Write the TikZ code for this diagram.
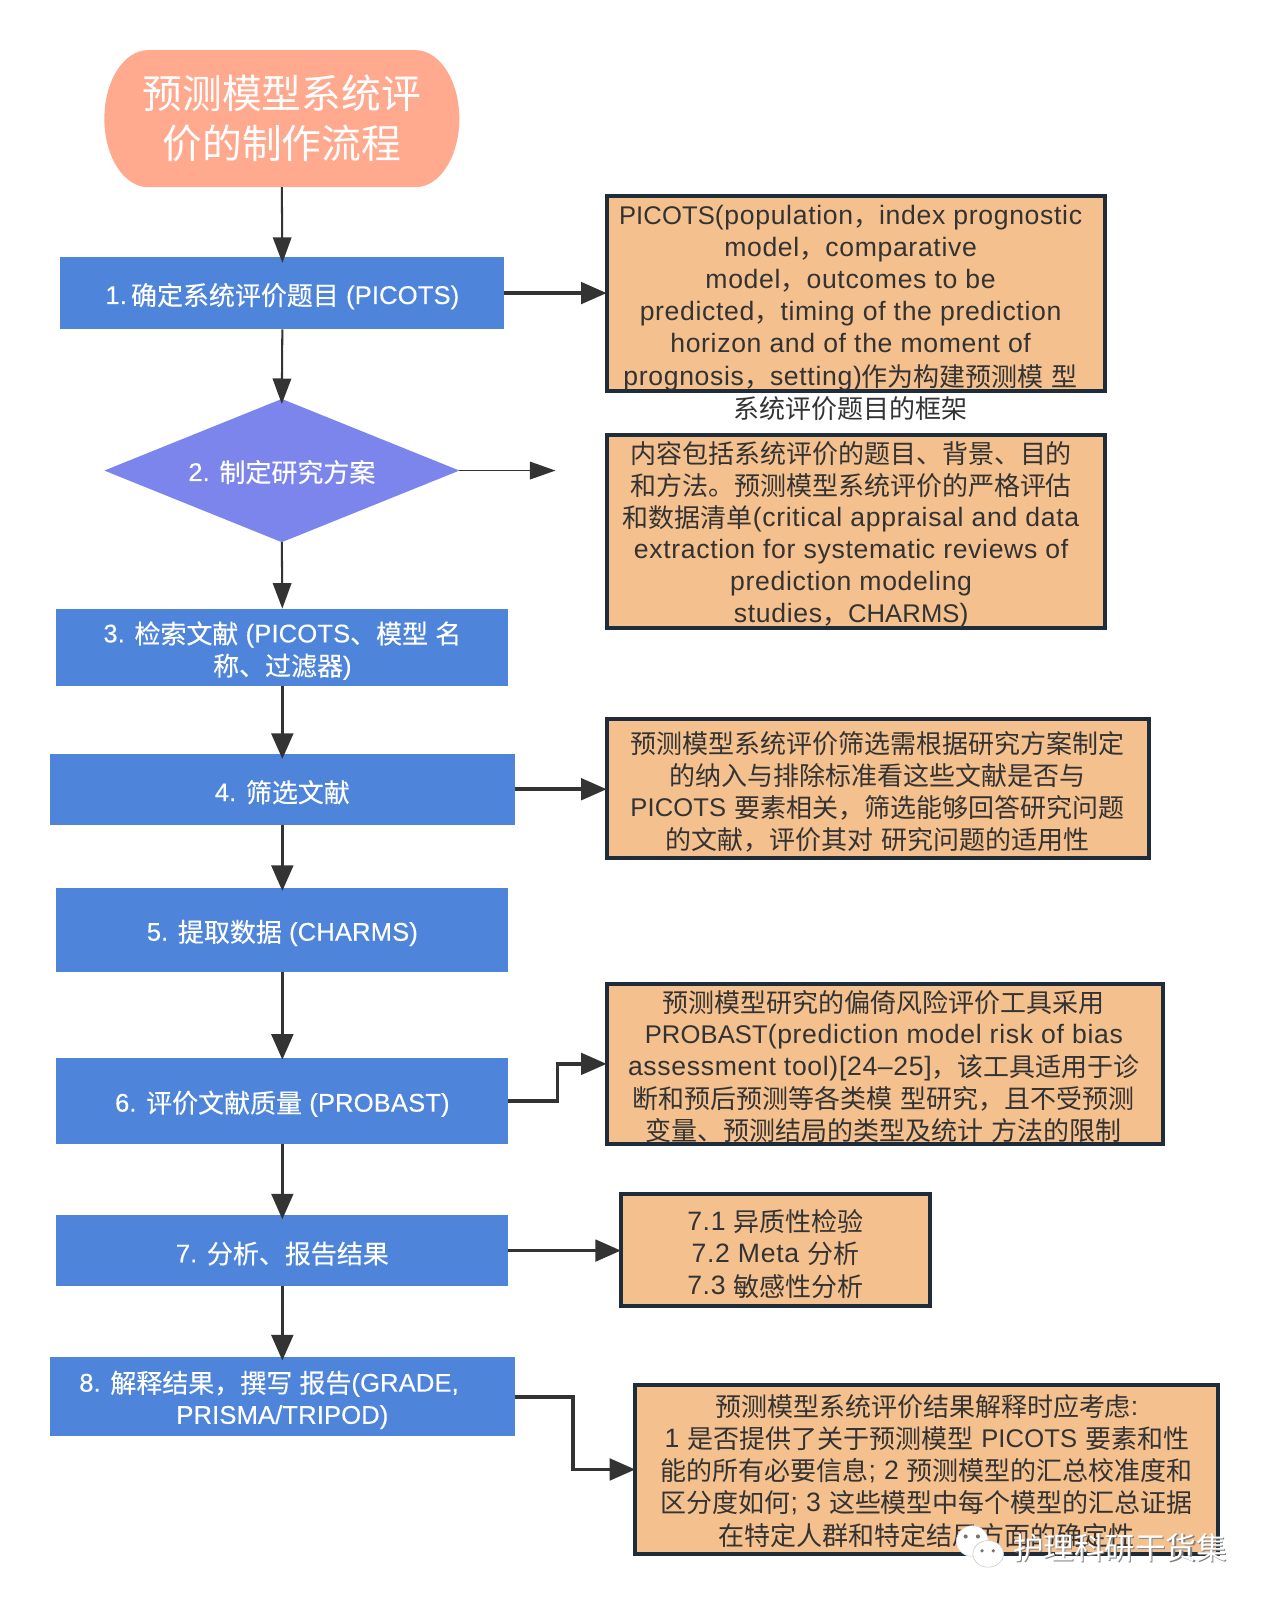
\documentclass[tikz,border=0pt]{standalone}
\usepackage{fontspec}
\setmainfont[Scale=1.04,LetterSpace=2.5]{Liberation Sans}
\newfontfamily\cjk[Scale=1.016]{Noto Sans CJK SC}
\newfontfamily\capsf[LetterSpace=0.5]{Liberation Sans}
\newfontfamily\latinm[LetterSpace=0.5,FakeBold=0.3]{Liberation Sans}
\newfontfamily\cjkm[Scale=1.016,FakeBold=0.3]{Noto Sans CJK SC}
\newcommand\z[1]{\lower1pt\hbox{\cjk #1}}
\newcommand\cp[1]{{\capsf #1}}
\usetikzlibrary{shapes.geometric,arrows.meta}
\definecolor{titlec}{HTML}{FFA98E}
\definecolor{bluec}{HTML}{4E85DB}
\definecolor{diac}{HTML}{7B85EB}
\definecolor{orangec}{HTML}{F4C08E}
\definecolor{edgec}{HTML}{1F2D3A}
\definecolor{inkc}{HTML}{333333}
\tikzset{
  flowbox/.style={rectangle,fill=bluec,inner sep=0pt,outer sep=0pt},
  flowtext/.style={text=white,inner sep=0pt,outer sep=0pt,align=center,
    font=\latinm\let\cjk\cjkm\fontsize{25}{31.4}\selectfont},
  notebox/.style={rectangle,fill=orangec,draw=edgec,line width=4pt,inner sep=0pt,outer sep=0pt},
  notetext/.style={text=inkc,inner sep=0pt,outer sep=0pt,align=center,
    font=\fontsize{25}{31.4}\selectfont},
  conn/.style={draw=inkc,line width=#1,-{Triangle[length=25pt,width=14pt 2]}},
  conn/.default=2pt
}
\newcommand\flow[6]{%
  \node[flowbox,minimum width={(#4-#2)*1pt},minimum height={(#5-#3)*1pt}] (#1) at ({(#2+#4)/2},{(#3+#5)/2}) {};
  \node[flowtext] (#1t) at ({(#2+#4)/2},{(#3+#5)/2+3}) {#6};}
\newcommand\note[7]{%
  \node[notebox,minimum width={(#4-#2-2)*1pt},minimum height={(#5-#3-2)*1pt}] (#1) at ({(#2+#4)/2},{(#3+#5)/2}) {};
  \node[notetext,yshift=-0.8pt] (#1t) at #6 {#7};}
\begin{document}
\begin{tikzpicture}[x=1pt,y=-1pt]
\useasboundingbox (0,0) rectangle (1241,1568);
\fill[white] (0,0) rectangle (1241,1568);
% title
\fill[titlec] (145,49) -- (406,49) .. controls (430,49) and (449,79) .. (449,116)
  .. controls (449,153) and (430,183) .. (406,183) -- (145,183)
  .. controls (121,183) and (102,153) .. (102,116) .. controls (102,79) and (121,49) .. (145,49) -- cycle;
\node[inner sep=0pt,outer sep=0pt,minimum width=347pt,minimum height=134pt,align=center,text=white,
  font=\fontsize{38.3}{49}\selectfont] (title) at (275.5,116) {\z{预测模型系统评}\\\z{价的制作流程}};
% left column
\flow{b1}{59}{251}{493}{322}{1.\hspace{4pt}\z{确定系统评价题目} (PICOTS)}
\node[diamond,fill=diac,inner sep=0pt,outer sep=0pt,aspect=2.48,minimum width=347pt,minimum height=140pt] (b2) at (275.5,460) {};
\node[flowtext] (b2t) at (275.5,461.5) {2. \z{制定研究方案}};
\flow{b3}{55}{595}{497}{671}{3. \z{检索文献} (PICOTS\z{、模型} \z{名}\\\z{称、过滤器})}
\flow{b4}{49}{737}{503}{806}{4. \z{筛选文献}}
\flow{b5}{55}{868}{497}{950}{5. \z{提取数据} (CHARMS)}
\flow{b6}{55}{1034}{497}{1118}{6. \z{评价文献质量} (PROBAST)}
\flow{b7}{55}{1188}{497}{1257}{7. \z{分析、报告结果}}
\flow{b8}{49}{1327}{503}{1404}{8. \z{解释结果，撰写} \z{报告}(GRADE,\hspace*{26pt}\\PRISMA/TRIPOD)}
% right column
\note{na}{592}{191}{1081}{383}{(831.5,305)}{\cp{PICOTS}(population\z{，}index prognostic\\model\z{，}comparative\\model\z{，}outcomes to be\\predicted\z{，}timing of the prediction\\horizon and of the moment of\\prognosis\z{，}setting)\z{作为构建预测模} \z{型}\\\z{系统评价题目的框架}}
\note{nb}{592}{424}{1081}{615}{(832,522)}{\z{内容包括系统评价的题目、背景、目的}\\\z{和方法。预测模型系统评价的严格评估}\\\z{和数据清单}(critical appraisal and data\\extraction for systematic reviews of\\prediction modeling\\studies\z{，}\cp{CHARMS})}
\note{nc}{592}{702}{1124}{840}{(857.5,773)}{\z{预测模型系统评价筛选需根据研究方案制定}\\\z{的纳入与排除标准看这些文献是否与}\\\cp{PICOTS} \z{要素相关，筛选能够回答研究问题}\\\z{的文献，评价其对} \z{研究问题的适用性}}
\note{nd}{592}{961}{1138}{1119}{(864,1042)}{\z{预测模型研究的偏倚风险评价工具采用}\\\cp{PROBAST}(prediction model risk of bias\\assessment tool)[24--25]\z{，该工具适用于诊}\\\z{断和预后预测等各类模} \z{型研究，且不受预测}\\\z{变量、预测结局的类型及统计} \z{方法的限制}}
\note{ne}{606}{1166}{910}{1278}{(758,1225)}{7.1 \z{异质性检验}\\7.2 Meta \z{分析}\\7.3 \z{敏感性分析}}
\note{nf}{620}{1353}{1192}{1520}{(906,1437)}{\z{预测模型系统评价结果解释时应考虑}:\\1 \z{是否提供了关于预测模型} \cp{PICOTS} \z{要素和性}\\\z{能的所有必要信息}; 2 \z{预测模型的汇总校准度和}\\\z{区分度如何}; 3 \z{这些模型中每个模型的汇总证据}\\\z{在特定人群和特定结局方面的确定性}}
\coordinate (free) at (543,460);
% connectors
\draw[conn=2pt,shorten >=-6pt] (title.south) -- (b1.north);
\draw[conn=2pt,shorten >=-5pt] (b1.south) -- (b2.north);
\draw[conn=1.6pt] (b2.east) -- (free);
\draw[conn=2pt] (b2.south) -- (b3.north);
\draw[conn=3.5pt,shorten >=-5pt] (b3.south) -- (b4.north);
\draw[conn=3.5pt,shorten >=-3pt] (b4.south) -- (b5.north);
\draw[conn=3.5pt,shorten >=-2pt] (b5.south) -- (b6.north);
\draw[conn=3.5pt,shorten >=-4pt] (b6.south) -- (b7.north);
\draw[conn=3.5pt,shorten >=-3pt] (b7.south) -- (b8.north);
\draw[conn=3.5pt] (b1.east) -- (b1.east -| na.west);
\draw[conn=3.5pt] (b4.east) -- (b4.east -| nc.west);
\draw[conn=3.5pt] (b6.east) -- ++(48,0) |- (nd.west);
\draw[conn=3.5pt] (b7.east) -- (b7.east -| ne.west);
\draw[conn=3.5pt] (b8.east) -- ++(57,0) |- (nf.west);
% watermark
\fill[white,draw=black!12,line width=.6pt] (950.5,1506.5) ellipse [x radius=15.5,y radius=15];
\fill[black!55] (944,1502) circle (2) (956,1502) circle (2);
\fill[white,draw=black!20,line width=.6pt] (966,1519) ellipse [x radius=15,y radius=13];
\fill[black!55] (960,1516) circle (1.8) (971,1516) circle (1.8);
\node[inner sep=0pt,outer sep=0pt,text=black!50,font=\fontsize{29.4}{30}\selectfont] (wmshadow) at (1096,1514.5) {\z{护理科研干货集}};
\node[inner sep=0pt,outer sep=0pt,text=white,font=\fontsize{29.4}{30}\selectfont] (wm) at (1095,1513.5) {\z{护理科研干货集}};
\end{tikzpicture}
\end{document}
